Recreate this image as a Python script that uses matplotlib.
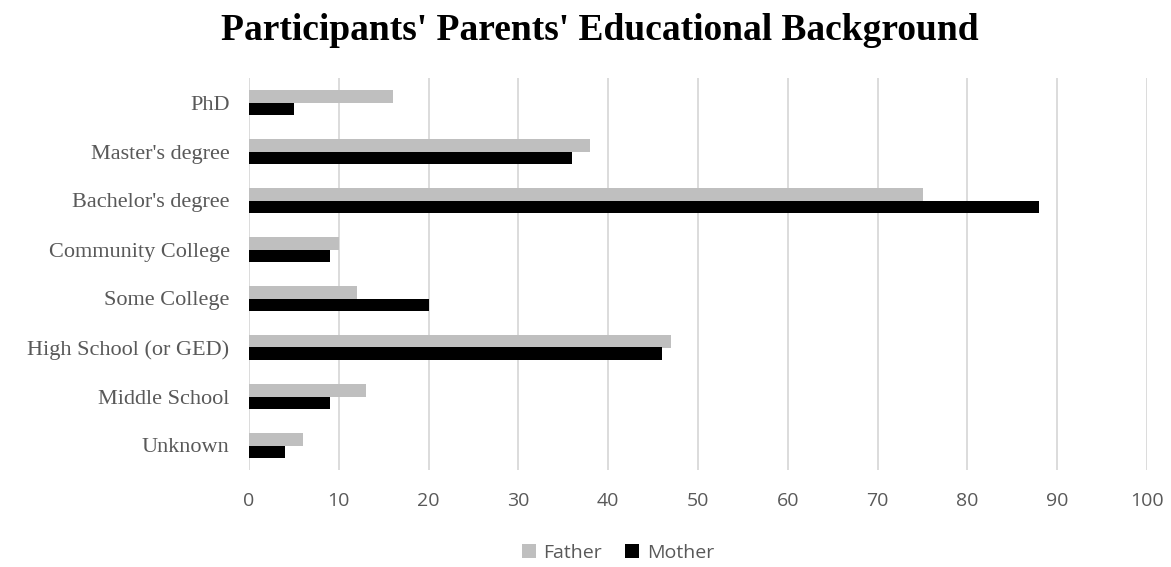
import matplotlib
matplotlib.use("Agg")
import matplotlib.pyplot as plt
import numpy as np

categories = ["Unknown", "Middle School", "High School (or GED)", "Some College",
              "Community College", "Bachelor's degree", "Master's degree", "PhD"]
father = [6, 13, 47, 12, 10, 75, 38, 16]
mother = [4, 9, 46, 20, 9, 88, 36, 5]
x_ticks = [0, 10, 20, 30, 40, 50, 60, 70, 80, 90, 100]

W, H = 1171, 567
fig = plt.figure(figsize=(W / 100, H / 100), dpi=100)
left, right, top, bottom = 249, 1147, 78, 470
ax = fig.add_axes([left / W, 1 - bottom / H, (right - left) / W, (bottom - top) / H])

y = np.arange(len(categories))
h = 0.255
ax.barh(y + h / 2, father, height=h, color="#bfbfbf", label="Father", zorder=3)
ax.barh(y - h / 2, mother, height=h, color="#000000", label="Mother", zorder=3)

ax.set_xlim(0, 100)
ax.set_ylim(-0.5, len(categories) - 0.5)
ax.set_xticks(x_ticks)
ax.set_xticklabels([str(t) for t in x_ticks], fontfamily="Open Sans", fontsize=14, color="#595959")
ax.set_yticks(y)
ax.set_yticklabels(categories, fontfamily="Liberation Serif", fontsize=16, color="#595959")
ax.tick_params(axis="both", length=0)
ax.tick_params(axis="x", pad=16)
ax.tick_params(axis="y", pad=14)
ax.grid(axis="x", color="#d9d9d9", linewidth=1.3, zorder=0)
for s in ax.spines.values():
    s.set_visible(False)

fig.suptitle("Participants' Parents' Educational Background", x=600 / W, y=1 - 30 / H,
             va="center", fontfamily="Liberation Serif", fontweight="bold", fontsize=27)

fig.legend(loc="center", bbox_to_anchor=(618 / W, 1 - 553 / H), ncol=2, frameon=False,
           prop={"family": "Open Sans", "size": 14}, handlelength=0.7, handleheight=0.7,
           handletextpad=0.4, columnspacing=1.2, labelcolor="#595959")

fig.savefig("out.png", dpi=100, facecolor="white")
